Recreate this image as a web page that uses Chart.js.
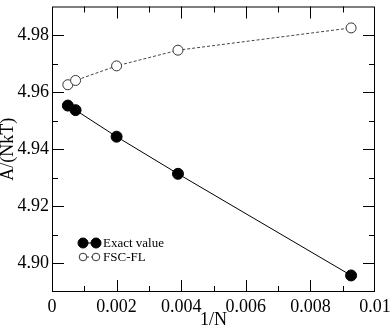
<!DOCTYPE html>
<html lang="en">
<head>
  <meta charset="UTF-8">
  <title>A/(NkT) vs 1/N</title>
  <script src="https://cdn.jsdelivr.net/npm/chart.js"></script>
  <style>
    html, body { margin: 0; padding: 0; background: #fff; }
    #wrap { width: 390px; height: 327px; }
  </style>
</head>
<body>
  <div id="wrap"><canvas id="chart" width="390" height="327"></canvas></div>

  <script>
  // data
  const invN = [0.00049, 0.00073, 0.002, 0.0039, 0.00926];
  const exactValue = [4.9553, 4.9537, 4.9444, 4.9314, 4.8958];
  const fscFL = [4.9626, 4.9641, 4.9692, 4.9747, 4.9825];

  const xTicks = [0, 0.002, 0.004, 0.006, 0.008, 0.01];
  const xTickLabels = ['0', '0.002', '0.004', '0.006', '0.008', '0.01'];
  const yTicks = [4.90, 4.92, 4.94, 4.96, 4.98];
  const yTickLabels = ['4.90', '4.92', '4.94', '4.96', '4.98'];
  const xMinor = [0.001, 0.003, 0.005, 0.007, 0.009];
  const yMinor = [4.91, 4.93, 4.95, 4.97];

  const serif = "'Liberation Serif', 'DejaVu Serif', serif";

  // box around the plot with inward ticks on all four sides
  const frame = {
    id: 'frame',
    afterDatasetsDraw(chart) {
      const c = chart.ctx, a = chart.chartArea;
      const sx = chart.scales.x, sy = chart.scales.y;
      c.save();
      c.strokeStyle = '#000';
      c.lineWidth = 1;
      c.strokeRect(a.left + 0.5, a.top + 0.5, a.right - a.left - 1, a.bottom - a.top - 1);
      c.beginPath();
      const tx = (v, len) => {
        const x = Math.round(sx.getPixelForValue(v)) + 0.5;
        c.moveTo(x, a.bottom); c.lineTo(x, a.bottom - len);
        c.moveTo(x, a.top); c.lineTo(x, a.top + len);
      };
      const ty = (v, len) => {
        const y = Math.round(sy.getPixelForValue(v)) + 0.5;
        c.moveTo(a.left, y); c.lineTo(a.left + len, y);
        c.moveTo(a.right, y); c.lineTo(a.right - len, y);
      };
      xTicks.slice(1, -1).forEach(v => tx(v, 12));
      xMinor.forEach(v => tx(v, 6));
      yTicks.forEach(v => ty(v, 12));
      yMinor.forEach(v => ty(v, 6));
      c.stroke();
      c.restore();
    }
  };

  // legend: two markers joined by a short line, then the label
  const legendBox = {
    id: 'legendBox',
    afterDraw(chart) {
      const c = chart.ctx;
      const rows = [
        { y: 243, r: 5, fill: '#000', stroke: '#000', dash: [], text: 'Exact value' },
        { y: 257, r: 3.8, fill: '#fff', stroke: '#333', dash: [2, 2], text: 'FSC-FL' }
      ];
      c.save();
      rows.forEach(row => {
        c.strokeStyle = row.stroke;
        c.lineWidth = 1;
        c.setLineDash(row.dash);
        c.beginPath(); c.moveTo(83, row.y); c.lineTo(96, row.y); c.stroke();
        c.setLineDash([]);
        [83, 96].forEach(x => {
          c.beginPath(); c.arc(x, row.y, row.r, 0, Math.PI * 2);
          c.fillStyle = row.fill; c.fill(); c.stroke();
        });
        c.fillStyle = '#000';
        c.font = '13px ' + serif;
        c.textBaseline = 'middle';
        c.fillText(row.text, 103, row.y + 1);
      });
      c.restore();
    }
  };

  new Chart(document.getElementById('chart'), {
    type: 'scatter',
    data: {
      datasets: [
        {
          label: 'Exact value',
          data: invN.map((x, i) => ({ x, y: exactValue[i] })),
          showLine: true,
          borderColor: '#000',
          borderWidth: 1,
          pointRadius: 5.5,
          pointBackgroundColor: '#000',
          pointBorderColor: '#000'
        },
        {
          label: 'FSC-FL',
          data: invN.map((x, i) => ({ x, y: fscFL[i] })),
          showLine: true,
          borderColor: '#444',
          borderWidth: 1,
          borderDash: [3, 2],
          pointRadius: 5,
          pointBackgroundColor: '#fff',
          pointBorderColor: '#333',
          pointBorderWidth: 1
        }
      ]
    },
    options: {
      responsive: false,
      animation: false,
      devicePixelRatio: 1,
      layout: { padding: { top: 1, right: 15, left: 0, bottom: 0 } },
      plugins: { legend: { display: false }, tooltip: { enabled: false } },
      scales: {
        x: {
          type: 'linear',
          min: 0, max: 0.01,
          grid: { display: false, drawTicks: false },
          border: { display: false },
          afterBuildTicks: s => { s.ticks = xTicks.map(v => ({ value: v })); },
          afterFit: s => { s.height = 35; s.paddingLeft = 0; s.paddingRight = 0; },
          ticks: {
            autoSkip: false, maxRotation: 0, padding: 4,
            color: '#000',
            font: { family: serif, size: 18 },
            callback: (v, i) => xTickLabels[i]
          },
          title: {
            display: true, text: '1/N', color: '#000',
            font: { family: serif, size: 18, lineHeight: 0.7 }, padding: 0
          }
        },
        y: {
          type: 'linear',
          min: 4.89, max: 4.99,
          grid: { display: false, drawTicks: false },
          border: { display: false },
          afterBuildTicks: s => { s.ticks = yTicks.map(v => ({ value: v })); },
          afterFit: s => { s.width = 52; s.paddingTop = 0; s.paddingBottom = 0; },
          ticks: {
            autoSkip: false, padding: 3,
            color: '#000',
            font: { family: serif, size: 18 },
            callback: (v, i) => yTickLabels[i]
          },
          title: {
            display: true, text: 'A/(NkT)', color: '#000',
            font: { family: serif, size: 18, lineHeight: 0.95 }, padding: 0
          }
        }
      }
    },
    plugins: [frame, legendBox]
  });
  </script>
</body>
</html>
